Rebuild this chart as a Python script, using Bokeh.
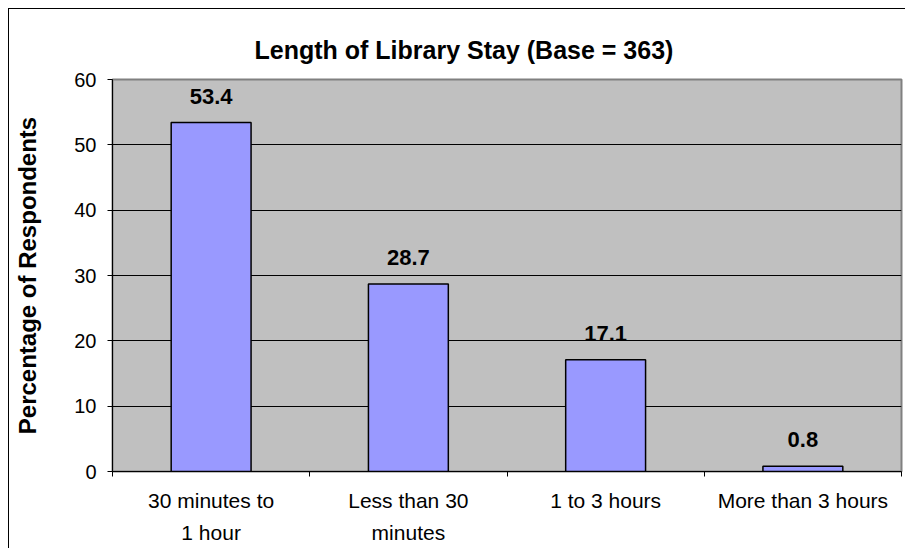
import json
from bokeh.plotting import figure
from bokeh.models import (FactorRange, Range1d, LinearAxis, CategoricalAxis,
                          FixedTicker, ColumnDataSource, LabelSet,
                          CustomJSTickFormatter)
from bokeh.core.properties import value
from bokeh.embed import file_html
from bokeh.resources import INLINE

categories = ["30 minutes to 1 hour", "Less than 30 minutes", "1 to 3 hours", "More than 3 hours"]
label_line1 = ["30 minutes to", "Less than 30", "1 to 3 hours", "More than 3 hours"]
label_line2 = ["1 hour", "minutes", "", ""]
percent = [53.4, 28.7, 17.1, 0.8]
y_ticks = [0, 10, 20, 30, 40, 50, 60]
title_main = "Length of Library Stay"
title_base = "(Base = 363)"
y_title = "Percentage of Respondents"

FONT = "Liberation Sans"

src = ColumnDataSource(dict(cat=categories, val=percent,
                            label=[f"{v:.1f}" for v in percent]))

p = figure(width=897, height=540, x_range=FactorRange(*categories),
           y_range=Range1d(0, 60), output_backend="svg", toolbar_location=None,
           x_axis_location=None, min_border_left=103, min_border_top=70,
           min_border_right=5, min_border_bottom=78)
p.styles = {"border-top": "1px solid black", "border-left": "1px solid black",
            "margin-left": "8px", "margin-top": "8px"}

p.background_fill_color = "#C0C0C0"
p.border_fill_color = "white"
p.outline_line_color = "#808080"
p.outline_line_width = 2

# title
p.title.text = f"{title_main} {title_base}"
p.title.align = "left"
p.title.offset = 142
p.title.standoff = 32
p.title.text_font = FONT
p.title.text_font_size = "25px"
p.title.text_font_style = "bold"
p.title.text_color = "black"

# y axis
p.yaxis.ticker = FixedTicker(ticks=y_ticks)
p.yaxis.axis_line_color = "black"
p.yaxis.major_tick_line_color = "black"
p.yaxis.major_tick_out = 5
p.yaxis.major_tick_in = 0
p.yaxis.minor_tick_line_color = None
p.yaxis.major_label_text_font = FONT
p.yaxis.major_label_text_font_size = "20px"
p.yaxis.major_label_text_color = "black"
p.yaxis.major_label_standoff = 11
p.yaxis.axis_label = y_title
p.yaxis.axis_label_text_font = FONT
p.yaxis.axis_label_text_font_size = "24px"
p.yaxis.axis_label_text_font_style = "bold"
p.yaxis.axis_label_text_color = "black"
p.yaxis.axis_label_standoff = 30

p.ygrid.grid_line_color = "black"
p.ygrid.grid_line_width = 1
p.xgrid.visible = False

# x axes: boundary ticks (category edges) + two rows of category labels
tick_axis = LinearAxis(ticker=FixedTicker(ticks=list(range(len(categories) + 1))),
                       major_tick_out=5, major_tick_in=0,
                       minor_tick_line_color=None,
                       major_label_text_font_size="0px",
                       major_label_text_color=None,
                       major_label_standoff=0,
                       axis_line_color="black", major_tick_line_color="black")
p.add_layout(tick_axis, "below")

def label_axis(lines, standoff):
    mapping = json.dumps(dict(zip(categories, lines)))
    fmt = CustomJSTickFormatter(code=f"const m = {mapping}; return m[tick] ?? '';")
    return CategoricalAxis(formatter=fmt,
                           axis_line_color=None, major_tick_line_color=None,
                           major_tick_out=0, major_tick_in=0,
                           major_label_standoff=standoff,
                           major_label_text_font=FONT,
                           major_label_text_font_size="21px",
                           major_label_text_color="black")

p.add_layout(label_axis(label_line1, 12), "below")
p.add_layout(label_axis(label_line2, 6), "below")

p.vbar(x="cat", top="val", width=0.405, source=src, fill_color="#9999FF",
       line_color="black", line_width=1.5)

labels = LabelSet(x="cat", y="val", text="label", source=src, y_offset=19,
                  text_align="center", text_baseline="alphabetic",
                  text_font=value(FONT), text_font_size=value("22px"),
                  text_font_style="bold", text_color="black")
p.add_layout(labels)

open("out.html", "w").write(file_html(p, INLINE))
